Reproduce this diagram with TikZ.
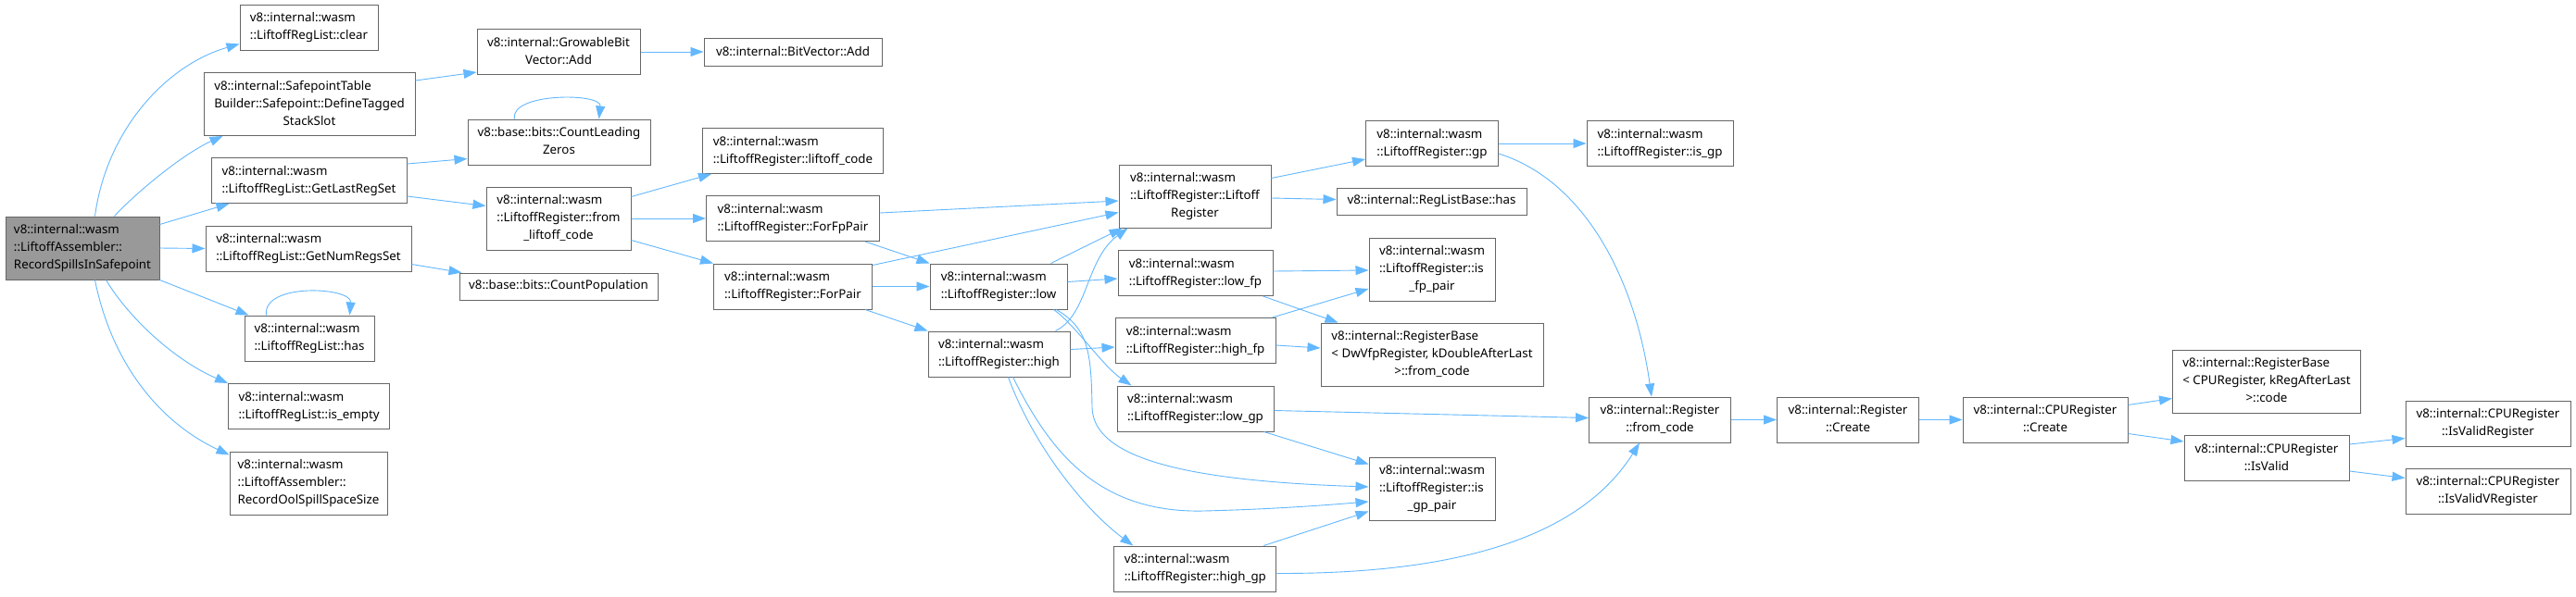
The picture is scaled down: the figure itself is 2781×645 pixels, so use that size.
\documentclass[tikz,border=0pt]{standalone}
\usepackage{fontspec}
\setmainfont{Noto Sans}
\usetikzlibrary{arrows.meta,calc}
\definecolor{edgeblue}{HTML}{63B8FF}
\definecolor{nodeborder}{HTML}{666666}
\definecolor{rootfill}{HTML}{999999}
\newcommand{\nl}[1]{\begin{tabular}{@{}l@{}}#1\end{tabular}}
\newcommand{\cl}[1]{\multicolumn{1}{@{}c@{}}{#1}}
\begin{document}
\begin{tikzpicture}[x=1pt,y=-1pt,
  fn/.style={draw=nodeborder, fill=white, line width=1pt, inner sep=0pt, font=\fontsize{13.3}{19}\selectfont},
  root/.style={fn, fill=rootfill},
  edge/.style={draw=edgeblue, line width=0.9pt, -{Triangle[length=14pt,width=10pt]}},
]
\fill[white] (0,0) rectangle (2781,645);
\useasboundingbox (0,0) rectangle (2781,645);

% column 1
\node[root, minimum width=166, minimum height=68] (M) at (89,268) {\nl{v8::internal::wasm\\::LiftoffAssembler::\\\cl{RecordSpillsInSafepoint}}};
% column 2
\node[fn, minimum width=149, minimum height=49] (clear) at (333.5,29.5) {\nl{v8::internal::wasm\\\cl{::LiftoffRegList::clear}}};
\node[fn, minimum width=228, minimum height=68] (dts) at (334,112.5) {\nl{v8::internal::SafepointTable\\Builder::Safepoint::DefineTagged\\\cl{StackSlot}}};
\node[fn, minimum width=211, minimum height=49] (glrs) at (333.5,195) {\nl{v8::internal::wasm\\\cl{::LiftoffRegList::GetLastRegSet}}};
\node[fn, minimum width=222, minimum height=49] (gnrs) at (333,268.5) {\nl{v8::internal::wasm\\\cl{::LiftoffRegList::GetNumRegsSet}}};
\node[fn, minimum width=140, minimum height=49] (has) at (334,365.5) {\nl{v8::internal::wasm\\\cl{::LiftoffRegList::has}}};
\node[fn, minimum width=174, minimum height=49] (isempty) at (333.6,439) {\nl{v8::internal::wasm\\\cl{::LiftoffRegList::is\_empty}}};
\node[fn, minimum width=170, minimum height=68] (rool) at (333,522) {\nl{v8::internal::wasm\\::LiftoffAssembler::\\\cl{RecordOolSpillSpaceSize}}};
% column 3
\node[fn, minimum width=176, minimum height=49] (gbva) at (603,56) {\nl{v8::internal::GrowableBit\\\cl{Vector::Add}}};
\node[fn, minimum width=197, minimum height=49] (clz) at (603.5,153.5) {\nl{v8::base::bits::CountLeading\\\cl{Zeros}}};
\node[fn, minimum width=156, minimum height=68] (flc) at (603,236) {\nl{v8::internal::wasm\\::LiftoffRegister::from\\\cl{\_liftoff\_code}}};
\node[fn, minimum width=214, minimum height=29] (cpop) at (603,309.5) {v8::base::bits::CountPopulation};
% column 4
\node[fn, minimum width=192, minimum height=30] (bva) at (856,56) {v8::internal::BitVector::Add};
\node[fn, minimum width=195, minimum height=49] (lc) at (856,163) {\nl{v8::internal::wasm\\\cl{::LiftoffRegister::liftoff\_code}}};
\node[fn, minimum width=187, minimum height=49] (ffp) at (856,236) {\nl{v8::internal::wasm\\\cl{::LiftoffRegister::ForFpPair}}};
\node[fn, minimum width=171, minimum height=49] (fp) at (856,309.5) {\nl{v8::internal::wasm\\\cl{::LiftoffRegister::ForPair}}};
% column 5
\node[fn, minimum width=148, minimum height=49] (low) at (1078,309.5) {\nl{v8::internal::wasm\\\cl{::LiftoffRegister::low}}};
\node[fn, minimum width=153, minimum height=49] (high) at (1078.5,382.5) {\nl{v8::internal::wasm\\\cl{::LiftoffRegister::high}}};
% column 6
\node[fn, minimum width=164, minimum height=68] (ctor) at (1290,212) {\nl{v8::internal::wasm\\::LiftoffRegister::Liftoff\\\cl{Register}}};
\node[fn, minimum width=167, minimum height=49] (lowfp) at (1290.5,295) {\nl{v8::internal::wasm\\\cl{::LiftoffRegister::low\_fp}}};
\node[fn, minimum width=173, minimum height=49] (highfp) at (1290.5,368) {\nl{v8::internal::wasm\\\cl{::LiftoffRegister::high\_fp}}};
\node[fn, minimum width=169, minimum height=49] (lowgp) at (1290.5,441.5) {\nl{v8::internal::wasm\\\cl{::LiftoffRegister::low\_gp}}};
\node[fn, minimum width=175, minimum height=49] (highgp) at (1290.3,614.5) {\nl{v8::internal::wasm\\\cl{::LiftoffRegister::high\_gp}}};
% column 7
\node[fn, minimum width=143, minimum height=49] (gp) at (1546,155) {\nl{v8::internal::wasm\\\cl{::LiftoffRegister::gp}}};
\node[fn, minimum width=205, minimum height=29] (rlbhas) at (1545.5,217.5) {v8::internal::RegListBase::has};
\node[fn, minimum width=136, minimum height=68] (isfp) at (1546,291) {\nl{v8::internal::wasm\\::LiftoffRegister::is\\\cl{\_fp\_pair}}};
\node[fn, minimum width=240, minimum height=68] (dwvfp) at (1546,383) {\nl{v8::internal::RegisterBase\\< DwVfpRegister, kDoubleAfterLast\\\cl{>::from\_code}}};
\node[fn, minimum width=136, minimum height=68] (isgpp) at (1546,528) {\nl{v8::internal::wasm\\::LiftoffRegister::is\\\cl{\_gp\_pair}}};
% column 8
\node[fn, minimum width=158, minimum height=49] (isgp) at (1792,155) {\nl{v8::internal::wasm\\\cl{::LiftoffRegister::is\_gp}}};
\node[fn, minimum width=153, minimum height=49] (rfc) at (1792,453.5) {\nl{v8::internal::Register\\\cl{::from\_code}}};
% column 9-11
\node[fn, minimum width=153, minimum height=49] (rcr) at (1995,453.5) {\nl{v8::internal::Register\\\cl{::Create}}};
\node[fn, minimum width=178, minimum height=49] (cpuc) at (2208,453.5) {\nl{v8::internal::CPURegister\\\cl{::Create}}};
\node[fn, minimum width=203, minimum height=68] (rbcode) at (2447,412) {\nl{v8::internal::RegisterBase\\< CPURegister, kRegAfterLast\\\cl{>::code}}};
\node[fn, minimum width=178, minimum height=49] (isvalid) at (2447,495) {\nl{v8::internal::CPURegister\\\cl{::IsValid}}};
\node[fn, minimum width=178, minimum height=49] (ivr) at (2686,457.5) {\nl{v8::internal::CPURegister\\\cl{::IsValidRegister}}};
\node[fn, minimum width=178, minimum height=49] (ivvr) at (2686,530.5) {\nl{v8::internal::CPURegister\\\cl{::IsValidVRegister}}};

% edges from root
\draw[edge] ($(M.north west)+(97,0)$) .. controls (115,140) and (180,70) .. ($(clear.south west)+(0,-7)$);
\draw[edge] ($(M.north west)+(118,0)$) .. controls (150,205) and (200,165) .. ($(dts.south west)+(21,0)$);
\draw[edge] ($(M.north east)+(0,9)$) -- ($(glrs.south west)+(20,0)$);
\draw[edge] (M.east) -- (gnrs.west);
\draw[edge] (M.south east) -- ($(has.north west)+(5,0)$);
\draw[edge] ($(M.south west)+(109,0)$) .. controls (140,345) and (190,390) .. (isempty.north west);
\draw[edge] ($(M.south west)+(97,0)$) .. controls (120,390) and (170,455) .. ($(rool.north west)+(0,4)$);
\draw[edge] ($(has.north west)+(24,0)$) .. controls (283,305) and (380,310) .. ($(has.north west)+(114,0)$);
% column 2 -> 3
\draw[edge] ($(glrs.north east)+(0,7)$) -- ($(clz.south west)+(0,-7)$);
\draw[edge] ($(glrs.south east)+(0,-8)$) -- ($(flc.north west)+(0,21)$);
\draw[edge] ($(dts.north east)+(0,9)$) -- ($(gbva.south west)+(0,-3)$);
\draw[edge] ($(gnrs.south east)+(0,-8)$) -- ($(cpop.north west)+(3,0)$);
\draw[edge] ($(clz.north west)+(51,0)$) .. controls (550,100) and (650,100) .. ($(clz.north west)+(142,0)$);
% column 3 -> 4
\draw[edge] (gbva.east) -- (bva.west);
\draw[edge] ($(flc.north east)+(0,11)$) -- ($(lc.south west)+(10,0)$);
\draw[edge] (flc.east) -- (ffp.west);
\draw[edge] ($(flc.south east)+(0,-11)$) -- (fp.north west);
% column 4 -> 5/6
\draw[edge] ($(ffp.north east)+(0,19)$) -- ($(ctor.west)+(0,5)$);
\draw[edge] ($(ffp.south east)+(-16,0)$) -- (low.north west);
\draw[edge] ($(fp.north east)+(0,2)$) -- ($(ctor.south west)+(0,-17)$);
\draw[edge] (fp.east) -- (low.west);
\draw[edge] ($(fp.south east)+(-8,0)$) -- (high.north west);
% from low
\draw[edge] ($(low.north east)+(-18,0)$) -- ($(ctor.south west)+(4,0)$);
\draw[edge] ($(low.east)+(0,-5)$) -- ($(lowfp.west)+(0,6)$);
\draw[edge] ($(low.south east)+(-15,0)$) .. controls (1160,350) and (1190,395) .. ($(lowgp.north west)+(16,0)$);
\draw[edge] ($(low.south east)+(-12,0)$) .. controls (1175,355) and (1178,380) .. (1179,440) .. controls (1180,500) and (1300,520) .. ($(isgpp.west)+(0,-2)$);
% from high
\draw[edge] ($(high.north east)+(-16,0)$) .. controls (1175,340) and (1172,280) .. ($(ctor.south west)+(10,0)$);
\draw[edge] ($(high.east)+(0,-5)$) -- ($(highfp.west)+(0,7)$);
\draw[edge] ($(high.south west)+(92,0)$) .. controls (1130,480) and (1180,555) .. (1300,552) .. controls (1380,550) and (1440,545) .. ($(isgpp.west)+(0,14)$);
\draw[edge] ($(high.south west)+(87,0)$) .. controls (1115,480) and (1170,550) .. ($(highgp.north west)+(21,0)$);
% column 6 -> 7
\draw[edge] ($(ctor.north east)+(0,15)$) -- ($(gp.south west)+(0,-8)$);
\draw[edge] ($(ctor.east)+(0,2)$) -- ($(rlbhas.west)+(0,-2)$);
\draw[edge] ($(lowfp.east)+(0,-2)$) -- ($(isfp.west)+(0,1)$);
\draw[edge] ($(lowfp.south east)+(-11,0)$) -- ($(dwvfp.north west)+(19,0)$);
\draw[edge] ($(highfp.north east)+(-4,0)$) -- ($(isfp.west)+(0,21)$);
\draw[edge] ($(highfp.east)+(0,5)$) -- ($(dwvfp.west)+(0,-7)$);
\draw[edge] ($(lowgp.east)+(0,2)$) -- ($(rfc.west)+(0,-2)$);
\draw[edge] ($(lowgp.south east)+(-11,0)$) -- ($(isgpp.north west)+(0,8)$);
\draw[edge] ($(highgp.north east)+(-14,0)$) -- ($(isgpp.south west)+(0,-10)$);
\draw[edge] ($(highgp.east)+(0,5)$) .. controls (1550,620) and (1700,590) .. ($(rfc.south west)+(55,0)$);
% from gp
\draw[edge] (gp.east) -- (isgp.west);
\draw[edge] ($(gp.east)+(0,11)$) .. controls (1710,195) and (1765,300) .. ($(rfc.north west)+(68,0)$);
% right part
\draw[edge] (rfc.east) -- (rcr.west);
\draw[edge] (rcr.east) -- (cpuc.west);
\draw[edge] ($(cpuc.north east)+(0,9)$) -- ($(rbcode.south west)+(0,-16)$);
\draw[edge] ($(cpuc.south east)+(0,-10)$) -- ($(isvalid.north west)+(0,7)$);
\draw[edge] ($(isvalid.north east)+(0,10)$) -- ($(ivr.south west)+(0,-9)$);
\draw[edge] ($(isvalid.south east)+(0,-11)$) -- ($(ivvr.north west)+(0,11)$);
\end{tikzpicture}
\end{document}
